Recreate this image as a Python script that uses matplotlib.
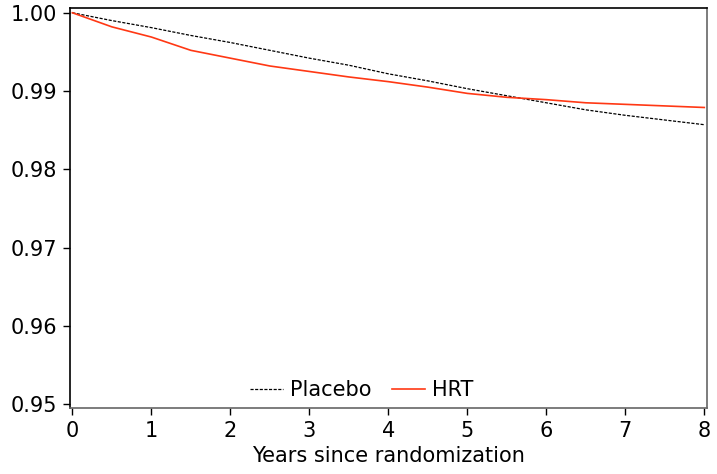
import matplotlib
matplotlib.use("Agg")
import matplotlib.pyplot as plt

plt.rcParams['font.family'] = ['DejaVu Sans']

years = [0, 0.5, 1.0, 1.5, 2.0, 2.5, 3.0, 3.5, 4.0, 4.5, 5.0, 5.5, 6.0, 6.5, 7.0, 7.5, 8.0]
placebo = [1.0, 0.9990, 0.9981, 0.9971, 0.9962, 0.9952, 0.9942, 0.9933, 0.9922,
           0.9913, 0.9903, 0.9894, 0.9885, 0.9876, 0.9869, 0.9863, 0.9857]
hrt = [1.0, 0.9982, 0.9969, 0.9952, 0.9942, 0.9932, 0.9925, 0.9918, 0.9912,
       0.9905, 0.9897, 0.9892, 0.9889, 0.9885, 0.9883, 0.9881, 0.9879]
xticks = [0, 1, 2, 3, 4, 5, 6, 7, 8]
yticks = [0.95, 0.96, 0.97, 0.98, 0.99, 1.00]
ytick_labels = ["0.95", "0.96", "0.97", "0.98", "0.99", "1.00"]

fig = plt.figure(figsize=(7.17, 4.74), dpi=100)
ax = fig.add_axes([0.0976, 0.139, 0.888, 0.844])

ax.plot(years, placebo, color='black', lw=0.9, dashes=(2.5, 1.2), label='Placebo')
ax.plot(years, hrt, color='#FF3814', lw=1.2, label='HRT')

ax.set_xlim(-0.03, 8.03)
ax.set_ylim(0.9495, 1.0006)
ax.set_xticks(xticks)
ax.set_xticklabels([str(x) for x in xticks])
ax.set_yticks(yticks)
ax.set_yticklabels(ytick_labels)
ax.tick_params(direction='out', length=5, width=1, labelsize=15, pad=4)
ax.tick_params(axis='x', pad=4)
ax.set_xlabel('Years since randomization', fontsize=15, labelpad=4)

for s in ['top', 'left']:
    ax.spines[s].set_color('black')
for s in ['bottom', 'right']:
    ax.spines[s].set_color('#666666')
for s in ax.spines.values():
    s.set_linewidth(1.2)

leg = ax.legend(loc='center', bbox_to_anchor=(0.458, 0.045), ncol=2, frameon=False,
                fontsize=15, handlelength=1.6, handletextpad=0.3, columnspacing=1.0)

fig.savefig('out.png', dpi=100)
